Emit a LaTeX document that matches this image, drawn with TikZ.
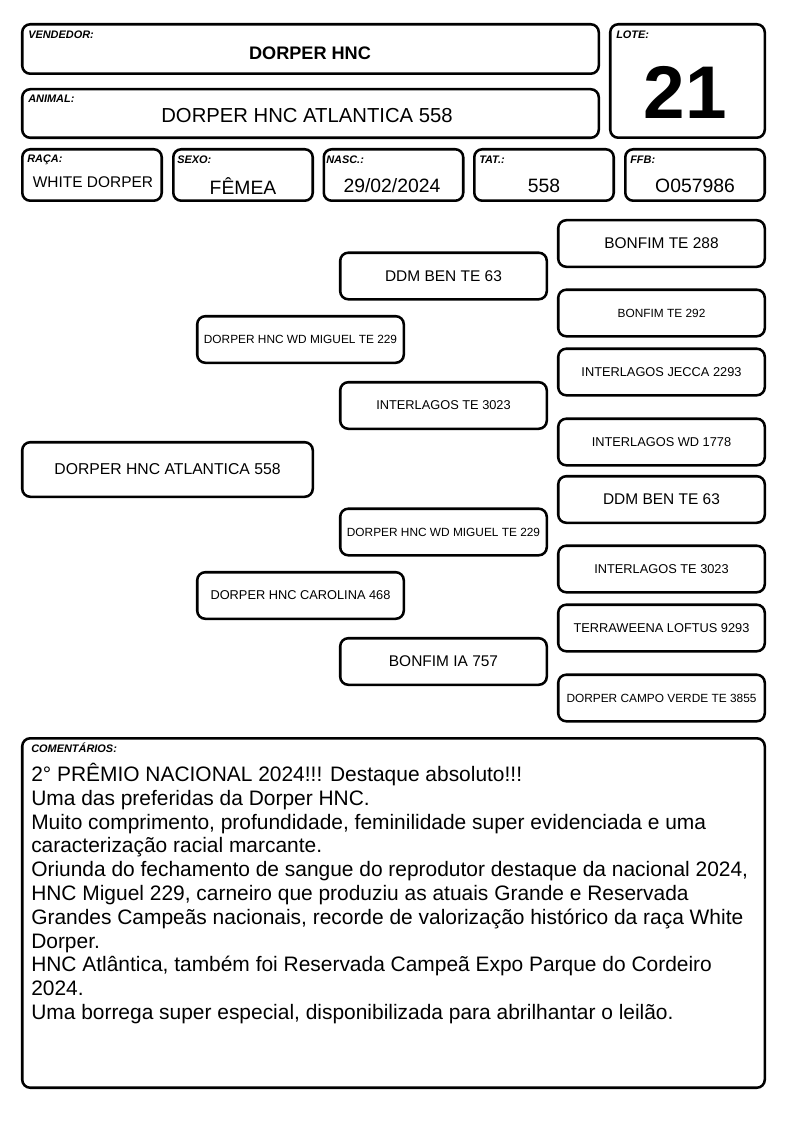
\documentclass[tikz,border=0pt]{standalone}
\usepackage{fontspec}
\setmainfont{Liberation Sans}
\usetikzlibrary{positioning}

\begin{document}
\begin{tikzpicture}[x=0.75pt,y=-0.75pt,
    field/.style={draw=black,line width=1.9pt,rounded corners=6pt,inner sep=0pt},
    pbox/.style={field,minimum width=154.9pt,minimum height=34.9pt},
    tag/.style={anchor=west,inner sep=0pt,font=\fontsize{8.2}{9}\selectfont\bfseries\itshape},
    val/.style={inner sep=0pt,font=\fontsize{14.5}{16}\selectfont},
    fbig/.style={font=\fontsize{11.6}{13}\selectfont},
    fmid/.style={font=\fontsize{9.6}{11}\selectfont},
    fsmall/.style={font=\fontsize{8.9}{10}\selectfont}]
  \useasboundingbox (0,0) rectangle (794,1123);
  % header
  \node[field,minimum width=432.4pt,minimum height=37.1pt] (vend) at (310.5,49) {};
  \node[field,minimum width=432.4pt,minimum height=36.4pt] (anim) at (310.5,113.5) {};
  \node[field,minimum width=115.9pt,minimum height=85.1pt] (lote) at (687.5,81) {};
  \node[tag] (vendtag) at (28,35) {VENDEDOR:};
  \node[tag] (animtag) at (28,99) {ANIMAL:};
  \node[tag] (lotetag) at (616,35) {LOTE:};
  \node[inner sep=0pt,font=\fontsize{13.6}{15}\selectfont\bfseries] (vendval) at (310,53) {DORPER HNC};
  \node[inner sep=0pt,font=\fontsize{15.2}{17}\selectfont] (animval) at (307,116) {DORPER HNC ATLANTICA 558};
  \node[inner sep=0pt,font=\fontsize{56}{60}\selectfont\bfseries] (loteval) at (685,92) {21};
  % second row
  \node[field,minimum width=104.6pt,minimum height=38.6pt] (raca) at (92,175) {};
  \node[field,minimum width=104.6pt,minimum height=38.6pt] (sexo) at (243,175) {};
  \node[field,minimum width=104.6pt,minimum height=38.6pt] (nasc) at (393.5,175) {};
  \node[field,minimum width=104.6pt,minimum height=38.6pt] (tat) at (544,175) {};
  \node[field,minimum width=104.6pt,minimum height=38.6pt] (ffb) at (695,175) {};
  \node[tag] (racatag) at (27,160) {RAÇA:};
  \node[tag] (sexotag) at (177,160) {SEXO:};
  \node[tag] (nasctag) at (326,160) {NASC.:};
  \node[tag] (tattag) at (479,160) {TAT.:};
  \node[tag] (ffbtag) at (630,160) {FFB:};
  \node[val,font=\fontsize{11.6}{13}\selectfont] (racaval) at (93,182) {WHITE DORPER};
  \node[val] (sexoval) at (243,186) {FÊMEA};
  \node[val] (nascval) at (392,186) {29/02/2024};
  \node[val] (tatval) at (544,186) {558};
  \node[val] (ffbval) at (695,186) {O057986};
  % pedigree
  \node[field,minimum width=217.9pt,minimum height=40.9pt,font=\fontsize{11.8}{13}\selectfont] (animal) at (167.5,469.5) {DORPER HNC ATLANTICA 558};
  \node[pbox,fsmall] (pai) at (300.5,339.5) {DORPER HNC WD MIGUEL TE 229};
  \node[pbox,fmid] (mae) at (300.5,595.5) {DORPER HNC CAROLINA 468};
  \node[pbox,fbig] (avopp) at (443.5,276) {DDM BEN TE 63};
  \node[pbox,fmid] (avapp) at (443.5,405.5) {INTERLAGOS TE 3023};
  \node[pbox,fsmall] (avopm) at (443.5,532) {DORPER HNC WD MIGUEL TE 229};
  \node[pbox,fbig] (avapm) at (443.5,661.5) {BONFIM IA 757};
  \node[pbox,fbig] (bis1) at (661.5,243.5) {BONFIM TE 288};
  \node[pbox,fsmall] (bis2) at (661.5,313) {BONFIM TE 292};
  \node[pbox,fmid] (bis3) at (661.5,372) {INTERLAGOS JECCA 2293};
  \node[pbox,fmid] (bis4) at (661.5,442) {INTERLAGOS WD 1778};
  \node[pbox,fbig] (bis5) at (661.5,499.5) {DDM BEN TE 63};
  \node[pbox,fmid] (bis6) at (661.5,569) {INTERLAGOS TE 3023};
  \node[pbox,fmid] (bis7) at (661.5,628) {TERRAWEENA LOFTUS 9293};
  \node[pbox,fsmall] (bis8) at (661.5,698) {DORPER CAMPO VERDE TE 3855};
  % comments
  \node[field,minimum width=556.9pt,minimum height=262.1pt] (coment) at (393.5,913) {};
  \node[tag] (comenttag) at (31,748) {COMENTÁRIOS:};
  \node[anchor=north west,inner sep=0pt,align=left,font=\fontsize{15.7}{17.85}\selectfont] (comenttxt) at (31,763) {2° PRÊMIO NACIONAL 2024!!! Destaque absoluto!!!\\
    Uma das preferidas da Dorper HNC.\\
    Muito comprimento, profundidade, feminilidade super evidenciada e uma\\
    caracterização racial marcante.\\
    Oriunda do fechamento de sangue do reprodutor destaque da nacional 2024,\\
    HNC Miguel 229, carneiro que produziu as atuais Grande e Reservada\\
    Grandes Campeãs nacionais, recorde de valorização histórico da raça White\\
    Dorper.\\
    HNC Atlântica, também foi Reservada Campeã Expo Parque do Cordeiro\\
    2024.\\
    Uma borrega super especial, disponibilizada para abrilhantar o leilão.};
\end{tikzpicture}
\end{document}
